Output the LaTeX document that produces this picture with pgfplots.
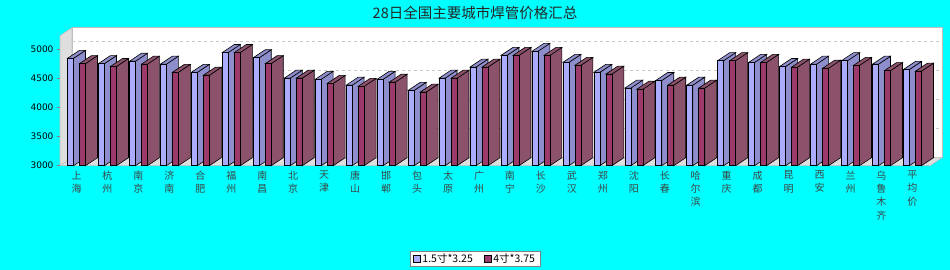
\documentclass[border=0pt]{standalone}
\usepackage{fontspec}
\setmainfont{DejaVu Sans}
\newfontfamily\cjk{Noto Sans CJK SC}
\usepackage{pgfplots}
\pgfplotsset{compat=1.18}
\usepackage{pgfplotstable}

\definecolor{bgcyan}{RGB}{0,255,255}
\definecolor{bfront}{RGB}{172,172,255}
\definecolor{bside}{RGB}{142,142,204}
\definecolor{rfront}{RGB}{156,58,108}
\definecolor{rside}{RGB}{140,82,108}
\definecolor{wallgray}{RGB}{222,222,222}
\definecolor{gridgray}{RGB}{200,200,200}
\definecolor{labgray}{RGB}{60,70,70}

\pgfplotstableread{
x b r
0 4840 4750
1 4750 4700
2 4790 4740
3 4740 4600
4 4600 4550
5 4940 4940
6 4850 4750
7 4500 4500
8 4480 4410
9 4380 4360
10 4480 4430
11 4290 4260
12 4500 4500
13 4690 4690
14 4890 4890
15 4960 4890
16 4770 4720
17 4600 4570
18 4330 4310
19 4460 4380
20 4380 4330
21 4800 4800
22 4770 4770
23 4700 4690
24 4740 4670
25 4800 4720
26 4740 4630
27 4650 4620
}\pricedata

% 3D bar marks: front face, top face, right side face (depth 12 x 8)
\pgfdeclareplotmark{barB}{%
  \pgfsetlinewidth{0.6pt}%
  \pgfsetstrokecolor{black}%
  \pgfsetfillcolor{bside}%
  \pgfpathmoveto{\pgfpoint{-3pt}{0pt}}%
  \pgfpathlineto{\pgfpoint{9pt}{8pt}}%
  \pgfpathlineto{\pgfpoint{9pt}{8pt-\barh pt}}%
  \pgfpathlineto{\pgfpoint{-3pt}{-\barh pt}}%
  \pgfpathclose
  \pgfusepath{fill,stroke}%
  \pgfpathmoveto{\pgfpoint{-9pt}{0pt}}%
  \pgfpathlineto{\pgfpoint{3pt}{8pt}}%
  \pgfpathlineto{\pgfpoint{9pt}{8pt}}%
  \pgfpathlineto{\pgfpoint{-3pt}{0pt}}%
  \pgfpathclose
  \pgfusepath{fill,stroke}%
  \pgfsetfillcolor{bfront}%
  \pgfpathrectangle{\pgfpoint{-9pt}{-\barh pt}}{\pgfpoint{6pt}{\barh pt}}%
  \pgfusepath{fill,stroke}%
}
\pgfdeclareplotmark{barR}{%
  \pgfsetlinewidth{0.6pt}%
  \pgfsetstrokecolor{black}%
  \pgfsetfillcolor{rside}%
  \pgfpathmoveto{\pgfpoint{9pt}{0pt}}%
  \pgfpathlineto{\pgfpoint{21pt}{8pt}}%
  \pgfpathlineto{\pgfpoint{21pt}{8pt-\barh pt}}%
  \pgfpathlineto{\pgfpoint{9pt}{-\barh pt}}%
  \pgfpathclose
  \pgfusepath{fill,stroke}%
  \pgfpathmoveto{\pgfpoint{3pt}{0pt}}%
  \pgfpathlineto{\pgfpoint{15pt}{8pt}}%
  \pgfpathlineto{\pgfpoint{21pt}{8pt}}%
  \pgfpathlineto{\pgfpoint{9pt}{0pt}}%
  \pgfpathclose
  \pgfusepath{fill,stroke}%
  \pgfsetfillcolor{rfront}%
  \pgfpathrectangle{\pgfpoint{3pt}{-\barh pt}}{\pgfpoint{6pt}{\barh pt}}%
  \pgfusepath{fill,stroke}%
}

\begin{document}
\begin{tikzpicture}
\useasboundingbox (0pt,0pt) rectangle (950pt,270pt);
\fill[bgcyan] (0pt,0pt) rectangle (950pt,270pt);
% back wall
\filldraw[fill=white, draw=gray!50, line width=0.6pt] (72pt,112.3pt) rectangle (942pt,242.3pt);
% left wall
\filldraw[fill=wallgray, draw=gray!50, line width=0.6pt] (60pt,104.3pt) -- (60pt,234.3pt) -- (72pt,242.3pt) -- (72pt,112.3pt) -- cycle;
% floor
\filldraw[fill=wallgray, draw=gray!50, line width=0.6pt] (60pt,104.3pt) -- (930pt,104.3pt) -- (942pt,112.3pt) -- (72pt,112.3pt) -- cycle;
% title
\node[font=\cjk\fontsize{14.5}{16}\selectfont, text=black!85] at (475pt,257pt) {28日全国主要城市焊管价格汇总};
\begin{axis}[
  at={(60pt,104.3pt)}, anchor=south west,
  width=870pt, height=130pt, scale only axis,
  xmin=-0.533, xmax=27.567, ymin=3000, ymax=5228,
  axis line style={draw=none},
  tick pos=left,
  xtick={0,...,27},
  xticklabels={{上\\海},{杭\\州},{南\\京},{济\\南},{合\\肥},{福\\州},{南\\昌},{北\\京},{天\\津},{唐\\山},{邯\\郸},{包\\头},{太\\原},{广\\州},{南\\宁},{长\\沙},{武\\汉},{郑\\州},{沈\\阳},{长\\春},{哈\\尔\\滨},{重\\庆},{成\\都},{昆\\明},{西\\安},{兰\\州},{乌\\鲁\\木\\齐},{平\\均\\价}},
  xtick style={draw=none},
  ytick={3000,3500,4000,4500,5000},
  ytick style={draw=gray, line width=0.6pt},
  tick align=outside, major tick length=3pt,
  ymajorgrids,
  major grid style={dashed, gridgray, line width=0.5pt, xshift=12pt, yshift=8pt},
  /pgf/number format/assume math mode=true,
  /pgf/number format/1000 sep={},
  yticklabel style={font=\fontsize{9}{10}\selectfont, text=black},
  xticklabel style={font=\cjk\fontsize{10}{13.3}\selectfont, align=center, text=labgray, anchor=north, inner sep=0pt, yshift=-2pt},
  clip=false,
  legend style={at={(0.477,-0.7177)}, anchor=center, draw=gray, fill=white,
    font=\cjk\fontsize{10.5}{12}\selectfont, inner xsep=3pt, inner ysep=0.5pt,
    /tikz/every odd column/.append style={column sep=0pt},
    /tikz/every even column/.append style={column sep=9pt}},
  legend columns=2,
  legend image code/.code={\fill[#1] (0pt,-3.5pt) rectangle (7pt,3.5pt);},
]
\addplot[scatter, only marks, mark=barB, forget plot,
  visualization depends on={(\thisrow{b}-3000)*0.058348 \as \barh}]
  table[x=x, y=b] {\pricedata};
\addplot[scatter, only marks, mark=barR, forget plot,
  visualization depends on={(\thisrow{r}-3000)*0.058348 \as \barh}]
  table[x=x, y=r] {\pricedata};
\addlegendimage{fill=bfront}
\addlegendentry{1.5寸*3.25}
\addlegendimage{fill=rfront}
\addlegendentry{4寸*3.75}
\end{axis}
\end{tikzpicture}
\end{document}
